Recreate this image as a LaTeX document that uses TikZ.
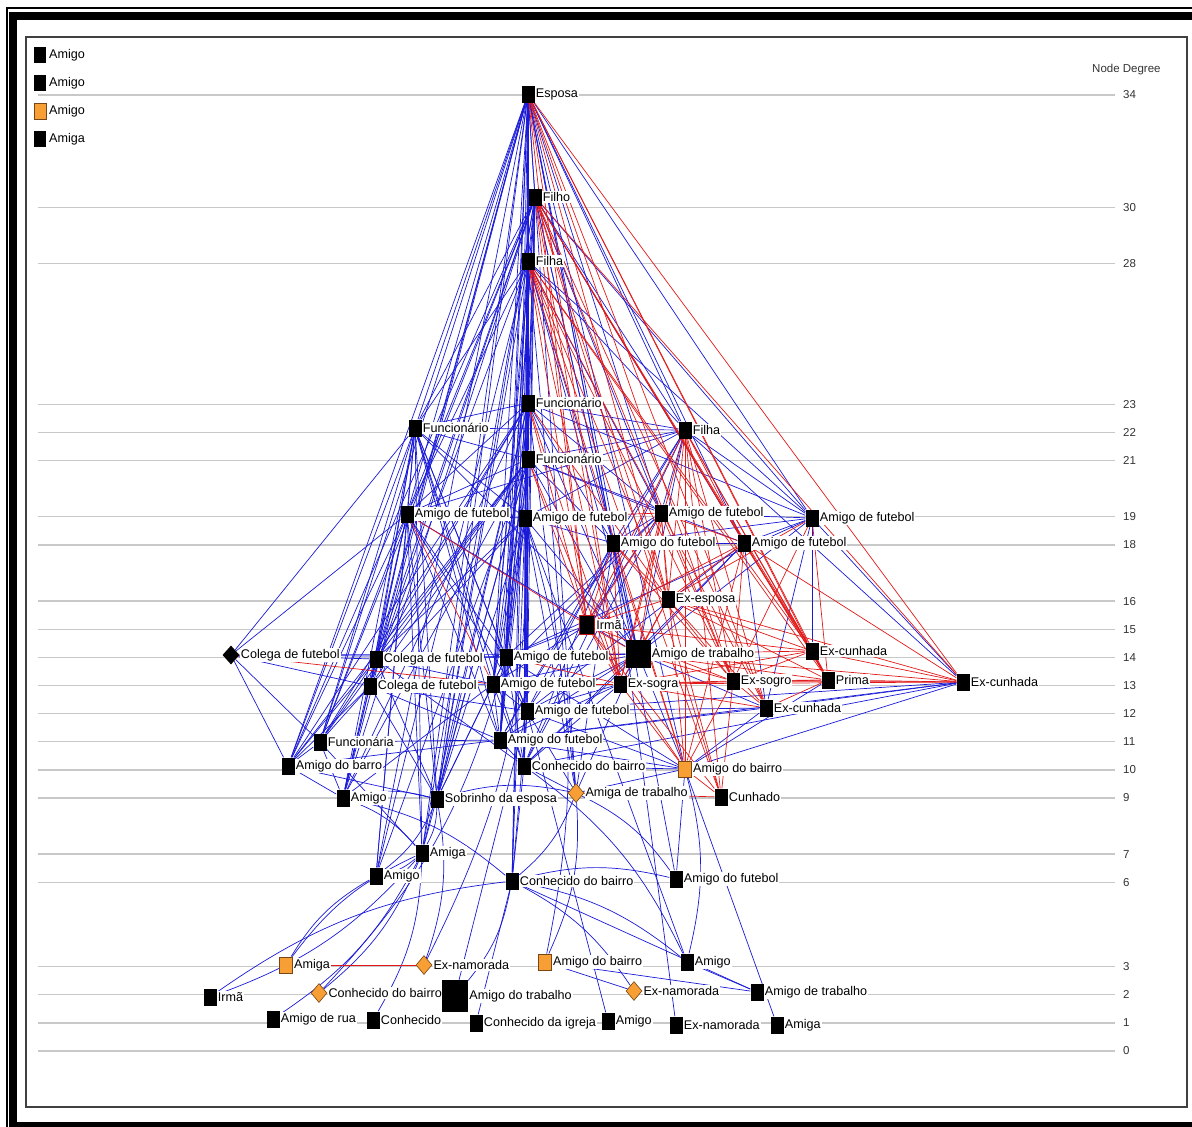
\documentclass[tikz,border=0pt]{standalone}
\usepackage{fontspec}
\setmainfont{Liberation Sans}
\usetikzlibrary{shapes.geometric}
\pgfdeclarelayer{back}
\pgfdeclarelayer{bg}
\pgfsetlayers{back,bg,main}
\definecolor{eblue}{RGB}{25,25,215}
\definecolor{ered}{RGB}{225,25,25}
\definecolor{nodeor}{RGB}{247,158,52}
\definecolor{nodeorb}{RGB}{120,70,20}
\definecolor{gline}{RGB}{200,200,200}
\tikzset{
  sq/.style={rectangle, fill=black, minimum width=13pt, minimum height=17pt, inner sep=0pt},
  bigsq/.style={sq, minimum width=25pt, minimum height=28pt},
  osq/.style={rectangle, fill=nodeor, draw=nodeorb, line width=0.8pt, minimum width=13pt, minimum height=16pt, inner sep=0pt},
  odia/.style={diamond, fill=nodeor, draw=nodeorb, line width=0.6pt, minimum width=16pt, minimum height=19pt, inner sep=0pt},
  bdia/.style={diamond, fill=black, minimum width=17pt, minimum height=19pt, inner sep=0pt},
  lbl/.style={fill=white, inner sep=1pt, font=\fontsize{12.6}{12.6}\selectfont},
  be/.style={eblue, line width=0.7pt},
  re/.style={ered, line width=0.7pt},
  degnum/.style={anchor=west, inner sep=0pt, font=\fontsize{11.5}{11.5}\selectfont, text=black!80},
}
\begin{document}
\begin{tikzpicture}[x=1pt,y=-1pt]
\useasboundingbox (0,0) rectangle (1192,1127);
\begin{pgfonlayer}{back}
% frame
\draw[line width=2pt] (6.5,1127) -- (6.5,8) -- (1192,8);
\fill[black] (9,12) rectangle (1192,20);
\fill[black] (9,12) rectangle (17,1127);
\fill[black] (17,1122) rectangle (1192,1127);
\draw[black!75, line width=1.5pt] (26,37) rectangle (1187,1107);
% degree lines
\foreach \d in {0,1,2,3,6,7,9,10,11,12,13,14,15,16,18,19,21,22,23,28,30,34}{
  \pgfmathsetmacro\yy{1051-28.12*\d}
  \draw[gline, line width=1.4pt] (38,\yy) -- (1115,\yy);
}
\end{pgfonlayer}
\foreach \d in {0,1,2,3,6,7,9,10,11,12,13,14,15,16,18,19,21,22,23,28,30,34}{
  \pgfmathsetmacro\yy{1051-28.12*\d}
  \node[degnum] (deg\d) at (1123,\yy) {\d};
}
\node[anchor=west, inner sep=0pt, font=\fontsize{11.5}{11.5}\selectfont, text=black!80] (ndeg) at (1092,70) {Node Degree};
% legend
\foreach \i/\t/\s in {1/Amigo/sq,2/Amigo/sq,3/Amigo/osq,4/Amiga/sq}{
  \node[\s, minimum width=12pt, minimum height=16pt] (leg\i) at (40,{27+28*\i}) {};
  \node[anchor=west, inner sep=0pt, font=\fontsize{12.6}{12.6}\selectfont] (legt\i) at (49,{27+28*\i}) {\t};
}
% nodes
\node[sq,label={[lbl]right:Esposa}] (es) at (528,94) {};
\node[sq,label={[lbl]right:Filho}] (fo) at (535,197) {};
\node[sq,label={[lbl]right:Filha}] (fa) at (528,261) {};
\node[sq,label={[lbl]right:Funcionário}] (fu1) at (528,403) {};
\node[sq,label={[lbl]right:Funcionário}] (fu2) at (415,428) {};
\node[sq,label={[lbl]right:Filha}] (fb) at (685,430) {};
\node[sq,label={[lbl]right:Funcionário}] (fu3) at (528,459) {};
\node[sq,label={[lbl]right:Amigo de futebol}] (af1) at (407,514) {};
\node[sq,label={[lbl]right:Amigo de futebol}] (af2) at (525,518) {};
\node[sq,label={[lbl]right:Amigo de futebol}] (af3) at (661,513) {};
\node[sq,label={[lbl]right:Amigo de futebol}] (af4) at (812,518) {};
\node[sq,label={[lbl]right:Amigo do futebol}] (ado1) at (613,543) {};
\node[sq,label={[lbl]right:Amigo de futebol}] (af5) at (744,543) {};
\node[sq,label={[lbl]right:Ex-esposa}] (exe) at (668,599) {};
\node[sq,draw=ered!85!black,line width=1.5pt,minimum width=15pt,minimum height=19pt,label={[lbl]right:Irmã}] (ir) at (587,625) {};
\node[bdia,label={[lbl]right:Colega de futebol}] (cf1) at (231,655) {};
\node[sq,label={[lbl]right:Colega de futebol}] (cf2) at (376,659) {};
\node[sq,label={[lbl]right:Amigo de futebol}] (af6) at (506,657) {};
\node[bigsq,label={[lbl]right:Amigo de trabalho}] (at) at (638,654) {};
\node[sq,label={[lbl]right:Ex-cunhada}] (ec1) at (812,651) {};
\node[sq,label={[lbl]right:Colega de futebol}] (cf3) at (370,686) {};
\node[sq,label={[lbl]right:Amigo de futebol}] (af7) at (493,684) {};
\node[sq,label={[lbl]right:Ex-sogra}] (sogra) at (620,684) {};
\node[sq,label={[lbl]right:Ex-sogro}] (sogro) at (733,681) {};
\node[sq,label={[lbl]right:Prima}] (pr) at (828,680) {};
\node[sq,label={[lbl]right:Ex-cunhada}] (ec2) at (963,682) {};
\node[sq,label={[lbl]right:Ex-cunhada}] (ec3) at (766,708) {};
\node[sq,label={[lbl]right:Amigo de futebol}] (af8) at (527,711) {};
\node[sq,label={[lbl]right:Funcionária}] (fun) at (320,742) {};
\node[sq,label={[lbl]right:Amigo do futebol}] (ado2) at (500,740) {};
\node[sq,label={[lbl]right:Amigo do barro}] (ab1) at (288,766) {};
\node[sq,label={[lbl]right:Conhecido do bairro}] (cb1) at (524,766) {};
\node[osq,label={[lbl]right:Amigo do bairro}] (ab2) at (685,769) {};
\node[sq,label={[lbl]right:Amigo}] (am1) at (343,798) {};
\node[sq,label={[lbl]right:Sobrinho da esposa}] (sob) at (437,799) {};
\node[odia,label={[lbl]right:Amiga de trabalho}] (adt) at (576,793) {};
\node[sq,label={[lbl]right:Cunhado}] (cun) at (721,797) {};
\node[sq,label={[lbl]right:Amiga}] (ama1) at (422,853) {};
\node[sq,label={[lbl]right:Amigo}] (am2) at (376,876) {};
\node[sq,label={[lbl]right:Conhecido do bairro}] (cb2) at (512,881) {};
\node[sq,label={[lbl]right:Amigo do futebol}] (ado3) at (676,879) {};
\node[osq,label={[lbl]right:Amiga}] (ama2) at (286,965) {};
\node[odia,label={[lbl]right:Ex-namorada}] (exn1) at (424,965) {};
\node[osq,label={[lbl]right:Amigo do bairro}] (ab3) at (545,962) {};
\node[sq,label={[lbl]right:Amigo}] (am3) at (687,962) {};
\node[sq,label={[lbl]right:Irmã}] (ir2) at (210,997) {};
\node[odia,label={[lbl]right:Conhecido do bairro}] (cb3) at (319,993) {};
\node[sq,minimum width=26pt,minimum height=32pt,label={[lbl]right:Amigo do trabalho}] (adtr) at (455,996) {};
\node[odia,label={[lbl]right:Ex-namorada}] (exn2) at (634,991) {};
\node[sq,label={[lbl]right:Amigo de trabalho}] (adt2) at (757,992) {};
\node[sq,label={[lbl]right:Amigo de rua}] (ar) at (273,1019) {};
\node[sq,label={[lbl]right:Conhecido}] (con) at (373,1020) {};
\node[sq,label={[lbl]right:Conhecido da igreja}] (ci) at (476,1023) {};
\node[sq,label={[lbl]right:Amigo}] (am4) at (608,1021) {};
\node[sq,label={[lbl]right:Ex-namorada}] (exn3) at (676,1025) {};
\node[sq,label={[lbl]right:Amiga}] (ama3) at (777,1025) {};
% edges
\begin{pgfonlayer}{bg}
% straight blue edges
\foreach \s/\l in {
 es/{fo,fa,fu1,fu2,fb,fu3,af1,af2,af3,af4,ado1,af5,af6,at,cf2,af7,af8,ado2,cb1,ab2,sob,am1,fun,ab1,ama1,am2,cb2,ado3,adt,cf3},
 fo/{fa,fu1,fu2,fu3,fb,af1,af2,af3,af4,ado1,af5,af6,at,cf2,cf3,af7,af8,ado2,cb1,fun,ab1,am1,sob,ama1},
 fa/{fu1,fu2,fu3,fb,af1,af2,af3,ado1,af6,at,cf3,af7,af8,ado2,cb1,sob,am2,cb2,adt,af4},
 fu1/{fu2,fu3,fb,af1,af2,af3,af4,ado1,af6,at,cf2,af7,af8,ado2,cb1,fun,ab1,am1,sob,ama1,adt},
 fu2/{fu3,fb,af1,af2,cf1,cf2,cf3,af6,af7,af8,ado2,fun,ab1,am1,sob,ama1,am2,cb1,at},
 fb/{fu3,af3,af4,ado1,at,ec2,af2,af1,ado2,cb1},
 fu3/{af1,af2,af3,ado1,af5,af6,at,cf2,cf3,af7,af8,ado2,cb1,fun,ab1,sob,am1,ama1,am2},
 af1/{af2,cf1,cf2,cf3,af6,af8,fun,ab1,am1,sob,ama1,am2,ado2,at},
 af2/{ado1,af6,at,cf2,cf3,af7,af8,ado2,cb1,sob,adt,cb2,am3},
 af3/{af4,ado1,af6,af7,af8,cb1},
 af4/{af5,ado1,at,af6,ec2,ec3,ec1},
 ado1/{af5,af8,ado2,cb1,adt,at,exn3},
 af5/{at,af8,cb1,ec3},
 ir/{af6,af7},
 cf1/{cf2,cf3,af6,fun,ab1,at},
 cf2/{cf3,af6,at,af7,fun,ab1,am1,sob,cb1},
 af6/{at,af7,af8,ado2,cb1,ab2,sob},
 at/{sogra,af7,af8,ado2,cb1,ab2,adt,ec3},
 cf3/{af7,af8,fun,ab1,am1,sob,ado2},
 af7/{af8,ado2,cb1,sob,am1},
 sogra/{af8,cb1,ado2},
 pr/{ab2},
 ec2/{af8,ado2,cb1,ab2,ec3},
 ec3/{af8,ado2,ab2},
 af8/{ado2,cb1,ab2,adt,cb2,am4,adtr},
 ado2/{cb1,fun,ab1,ab2},
 cb1/{ab2,adt,cb2},
 fun/{ab1,am1,ama1},
 ab1/{am1,sob},
 ab2/{adt,ado3,ama3},
 cb2/{ci,adt2},
 ab3/{exn2,adt2},
 am3/{adt2}}{
  \foreach \t in \l {\draw[be] (\s) -- (\t);}
}
% curved blue edges
\foreach \s/\l in {
 am1/{sob,ama1,cb2},
 sob/{ama1,am2,adt,exn1},
 adt/{cb2,ado3,ab3},
 ama1/{am2,con,cb3,ir2,ar},
 ama2/{am2,ama1},
 ir2/{cb2},
 af2/{ab3,exn1},
 af6/{cb3},
 cb1/{am3},
 ab2/{am3},
 cb2/{ado3,adtr,exn2,am3}}{
  \foreach \t in \l {\draw[be] (\s) to[bend left=14] (\t);}
}
% red edges
\foreach \s/\l in {
 es/{ir,exe,ec1,sogra,sogro,pr,ec2,ec3},
 fo/{exe,ir,ec1,sogro,sogra,pr,ec2,ec3,cun,af5},
 fa/{exe,ir,sogra,sogro,ec1,ec3,pr,ab2,cun},
 fu1/{ir,sogra,exe},
 fu3/{ir,sogra},
 fb/{exe,ir,ec1,sogra,sogro,pr,ec3,ab2,cun,af5},
 af1/{af7,ir},
 af2/{af3},
 af3/{af5,exe,ir,at,sogra,sogro,ab2},
 af4/{exe,pr,sogro},
 ado1/{exe,ir,sogra,sogro,ab2},
 af5/{exe,ir,ec1,sogro,pr,ec2,ab2},
 exe/{ir,at,ec1,sogra,sogro,pr,ec2,ec3,cun},
 ir/{at,sogra,sogro,ec1,ab2,cun},
 cf1/{af7},
 af6/{sogra},
 at/{ec1,sogro,pr,ec2},
 af7/{sogra},
 sogra/{sogro,ec1,pr,ec2,ec3,ab2},
 sogro/{ec1,pr,ec2,ec3,ab2,cun},
 pr/{ec1,ec2,ec3},
 ec2/{ec1},
 ab2/{cun},
 adt/{cun},
 ama2/{exn1}}{
  \foreach \t in \l {\draw[re] (\s) -- (\t);}
}
\end{pgfonlayer}
\end{tikzpicture}
\end{document}
